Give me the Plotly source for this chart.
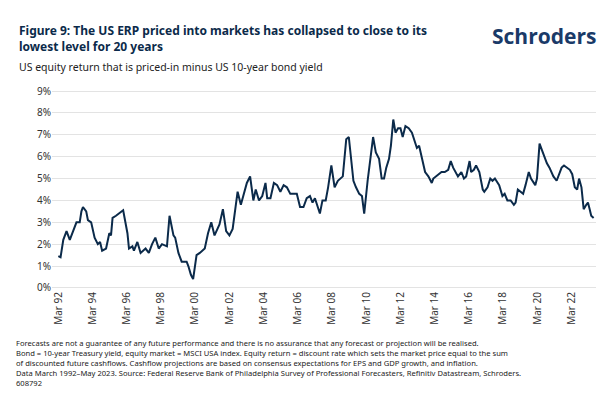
import plotly.graph_objects as go

NAVY = "#0b2a4a"

years = [
    1992.17, 1992.30, 1992.46, 1992.65, 1992.84, 1993.04, 1993.23, 1993.42, 1993.52, 1993.61,
    1993.80, 1993.90, 1994.09, 1994.29, 1994.48, 1994.61, 1994.73, 1994.96, 1995.15, 1995.25,
    1995.34, 1995.54, 1995.73, 1995.96, 1996.21, 1996.30, 1996.50, 1996.59, 1996.79, 1996.98,
    1997.27, 1997.46, 1997.65, 1997.84, 1998.04, 1998.23, 1998.52, 1998.67, 1998.90, 1999.00,
    1999.19, 1999.38, 1999.67, 1999.77, 1999.92, 2000.05, 2000.25, 2000.44, 2000.73, 2000.92,
    2001.11, 2001.30, 2001.59, 2001.79, 2001.98, 2002.17, 2002.36, 2002.65, 2002.84, 2003.03,
    2003.19, 2003.38, 2003.57, 2003.71, 2003.90, 2004.09, 2004.28, 2004.38, 2004.57, 2004.77,
    2004.96, 2005.15, 2005.34, 2005.53, 2005.73, 2006.11, 2006.30, 2006.50, 2006.69, 2006.88,
    2007.03, 2007.17, 2007.36, 2007.46, 2007.61, 2007.80, 2007.94, 2008.13, 2008.32, 2008.51,
    2008.80, 2009.00, 2009.15, 2009.28, 2009.42, 2009.57, 2009.76, 2009.92, 2010.05, 2010.25,
    2010.44, 2010.57, 2010.73, 2010.92, 2011.07, 2011.21, 2011.34, 2011.50, 2011.61, 2011.75,
    2011.88, 2012.03, 2012.17, 2012.30, 2012.46, 2012.65, 2012.84, 2013.03, 2013.13, 2013.26,
    2013.42, 2013.61, 2013.80, 2014.00, 2014.09, 2014.38, 2014.57, 2014.76, 2014.96, 2015.11,
    2015.25, 2015.53, 2015.73, 2015.88, 2016.01, 2016.21, 2016.30, 2016.46, 2016.59, 2016.78,
    2016.98, 2017.07, 2017.26, 2017.42, 2017.55, 2017.69, 2017.94, 2018.13, 2018.26, 2018.42,
    2018.61, 2018.80, 2018.90, 2019.03, 2019.19, 2019.34, 2019.48, 2019.67, 2019.80, 2020.05,
    2020.15, 2020.30, 2020.44, 2020.57, 2020.73, 2020.88, 2021.11, 2021.30, 2021.46, 2021.59,
    2021.73, 2021.88, 2022.07, 2022.21, 2022.36, 2022.50, 2022.61, 2022.75, 2022.88, 2023.03,
    2023.13, 2023.23, 2023.32, 2023.46,
]
erp = [
    1.45, 1.4, 2.2, 2.6, 2.2, 2.6, 3.0, 3.0, 3.5, 3.7,
    3.5, 3.1, 3.0, 2.3, 2.0, 2.1, 1.7, 1.8, 2.5, 2.4,
    3.2, 3.3, 3.4, 3.55, 2.5, 1.8, 1.9, 1.7, 2.1, 1.6,
    1.8, 1.6, 2.0, 2.3, 1.8, 2.0, 1.9, 3.3, 2.4, 2.3,
    1.6, 1.2, 1.2, 1.0, 0.6, 0.4, 1.5, 1.6, 1.8, 2.5,
    3.0, 2.4, 2.9, 3.6, 2.6, 2.4, 2.7, 4.4, 3.8, 4.3,
    4.8, 5.1, 4.0, 4.5, 4.0, 4.2, 4.8, 4.1, 4.1, 4.8,
    4.7, 4.4, 4.7, 4.6, 4.3, 4.3, 3.7, 3.7, 4.1, 4.2,
    3.9, 4.1, 3.6, 3.4, 4.0, 4.0, 4.6, 5.6, 4.6, 4.9,
    5.1, 6.8, 6.9, 6.0, 4.9, 4.6, 4.3, 4.2, 3.4, 4.9,
    6.2, 6.9, 6.2, 5.9, 5.0, 5.0, 5.5, 5.9, 6.5, 7.7,
    7.1, 7.3, 7.3, 6.9, 7.4, 7.3, 7.1, 6.7, 6.4, 6.5,
    5.9, 5.3, 5.1, 4.8, 5.0, 5.2, 5.3, 5.3, 5.4, 5.8,
    5.5, 5.1, 5.3, 5.0, 5.1, 5.8, 5.3, 5.4, 5.6, 5.3,
    4.5, 4.4, 4.6, 5.0, 4.9, 5.0, 4.7, 4.2, 4.3, 4.0,
    4.0, 3.8, 3.9, 4.5, 4.4, 4.3, 4.7, 5.3, 5.0, 4.7,
    5.0, 6.6, 6.3, 6.0, 5.7, 5.5, 5.1, 4.9, 5.2, 5.5,
    5.6, 5.5, 5.4, 5.2, 4.6, 4.5, 5.0, 4.6, 3.6, 3.8,
    3.9, 3.6, 3.3, 3.2,
]
tick_years = [1992.17 + 2 * i for i in range(16)]
tick_labels = ["Mar %02d" % ((92 + 2 * i) % 100) for i in range(16)]
y_ticks = list(range(10))

fig = go.Figure(go.Scatter(
    x=years, y=erp, mode="lines",
    line=dict(color=NAVY, width=2),
    hoverinfo="skip"
))

fig.update_layout(
    width=610, height=408,
    margin=dict(l=44, r=22, t=82, b=127),
    paper_bgcolor="white", plot_bgcolor="white",
    font=dict(family="Noto Sans", color="#333333", size=10),
    showlegend=False,
    xaxis=dict(
        range=[1991.8, 2023.6],
        tickvals=tick_years, ticktext=tick_labels,
        tickangle=-90, showgrid=False, zeroline=False,
        tickfont=dict(size=10, color="#333333"),
    ),
    yaxis=dict(
        range=[-0.05, 9.05],
        tickvals=y_ticks, ticktext=["%d%%" % v for v in y_ticks],
        showgrid=True, gridcolor="#e3e3e3", gridwidth=1, zeroline=False,
        tickfont=dict(size=10, color="#333333"),
    ),
)

fig.add_annotation(
    x=0, y=1.0, xref="paper", yref="paper", xanchor="left", yanchor="top",
    xshift=-35, yshift=70, showarrow=False, align="left",
    text="<b>Figure 9: The US ERP priced into markets has collapsed to close to its<br>lowest level for 20 years</b>",
    font=dict(size=12, color=NAVY),
)
fig.add_annotation(
    x=1.0, y=1.0, xref="paper", yref="paper", xanchor="right", yanchor="top",
    yshift=70, xshift=2, showarrow=False,
    text="<b>Schroders</b>",
    font=dict(size=21, color="#1a3a68", family="Open Sans"),
)
fig.add_annotation(
    x=0, y=1.0, xref="paper", yref="paper", xanchor="left", yanchor="bottom",
    xshift=-35, yshift=14, showarrow=False,
    text="US equity return that is priced-in minus US 10-year bond yield",
    font=dict(size=10.5, color="#222222"),
)
fig.add_annotation(
    x=0, y=0, xref="paper", yref="paper", xanchor="left", yanchor="top",
    xshift=-38, yshift=-47, showarrow=False, align="left",
    text=("Forecasts are not a guarantee of any future performance and there is no assurance that any forecast or projection will be realised.<br>"
          "Bond = 10-year Treasury yield, equity market = MSCI USA index. Equity return = discount rate which sets the market price equal to the sum<br>"
          "of discounted future cashflows. Cashflow projections are based on consensus expectations for EPS and GDP growth, and inflation.<br>"
          "Data March 1992\u2013May 2023. Source: Federal Reserve Bank of Philadelphia Survey of Professional Forecasters, Refinitiv Datastream, Schroders.<br>"
          "608792"),
    font=dict(size=7.6, color="#222222"),
)

fig.write_html("out.html")
